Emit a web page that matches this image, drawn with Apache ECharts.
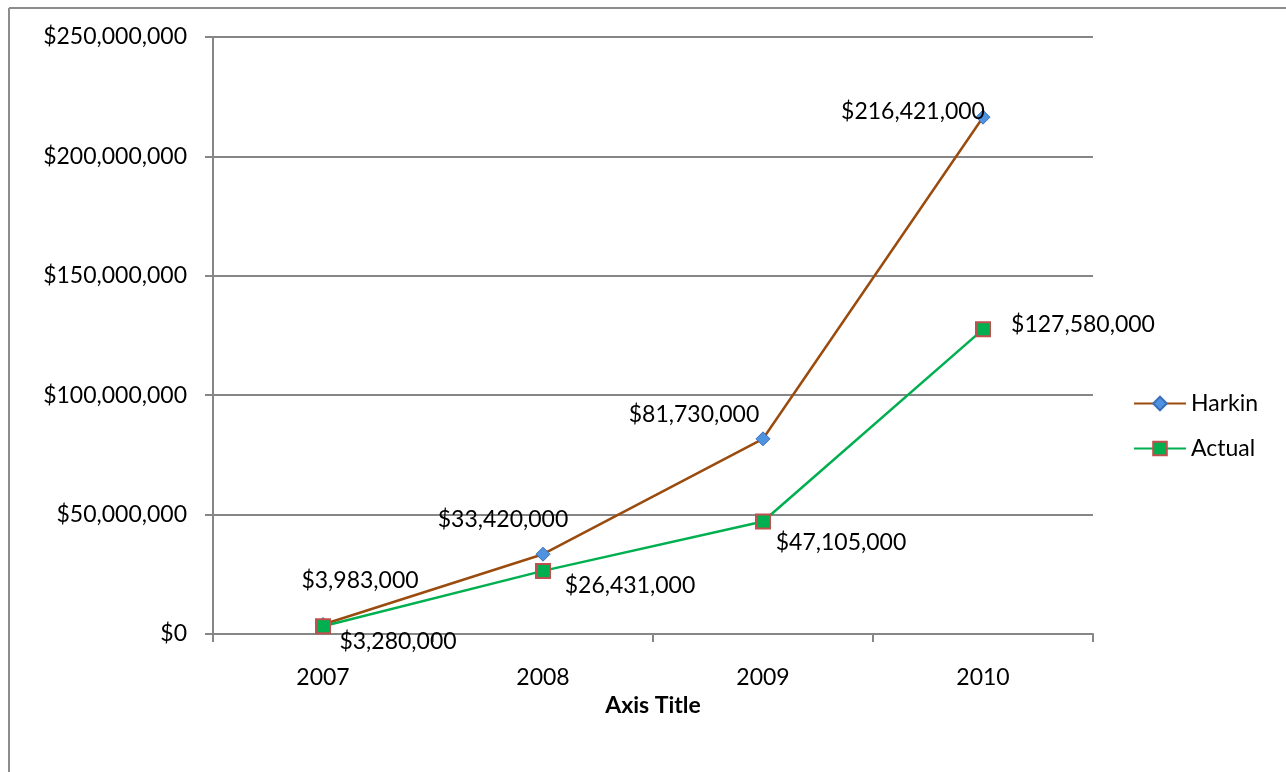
<!DOCTYPE html>
<html>
<head>
<meta charset="utf-8">
<script src="https://cdn.jsdelivr.net/npm/echarts@6/dist/echarts.min.js"></script>
<style>
  html, body { margin: 0; padding: 0; background: #fff; }
  #chart { width: 1286px; height: 772px; }
</style>
</head>
<body>
<div id="chart"></div>
<script>
// Yearly totals
const years = ['2007', '2008', '2009', '2010'];
const harkin = [3983000, 33420000, 81730000, 216421000];
const actual = [3280000, 26431000, 47105000, 127580000];
const yTicks = [0, 50000000, 100000000, 150000000, 200000000, 250000000];

// Per-point label offsets (pixels, relative to the marker)
const harkinLabelOffsets = [[37, -44], [-40, -35], [-69, -24], [-70, -6]];
const actualLabelOffsets = [[75, 15], [87, 15], [78, 21], [100, -5]];

const FONT = 'Lato, "Open Sans", sans-serif';
const FS = 23;
const money = v => '$' + Number(v).toLocaleString('en-US');

function points(values, offsets) {
  return values.map((v, i) => ({
    value: v,
    label: { offset: offsets[i] }
  }));
}

const chart = echarts.init(document.getElementById('chart'));
chart.setOption({
  animation: false,
  backgroundColor: '#fff',
  textStyle: { fontFamily: FONT },
  graphic: [
    {
      type: 'line',
      shape: { x1: 9, y1: 8, x2: 1286, y2: 8 },
      style: { stroke: '#8c8c8c', lineWidth: 2 },
      silent: true, z: 100
    },
    {
      type: 'line',
      shape: { x1: 9, y1: 8, x2: 9, y2: 772 },
      style: { stroke: '#8c8c8c', lineWidth: 2 },
      silent: true, z: 100
    }
  ],
  grid: { left: 213, right: 193, top: 37, bottom: 138, containLabel: false },
  legend: {
    orient: 'vertical',
    left: 1133,
    top: 392,
    padding: 0,
    itemWidth: 52,
    itemHeight: 17,
    itemGap: 22,
    textStyle: { fontFamily: FONT, fontSize: FS, color: '#000', padding: [0, 0, 0, 0] },
    data: ['Harkin', 'Actual']
  },
  xAxis: {
    type: 'category',
    data: years,
    boundaryGap: true,
    name: 'Axis Title',
    nameLocation: 'middle',
    nameGap: 58,
    nameTextStyle: { fontFamily: FONT, fontSize: FS, fontWeight: 'bold', color: '#000' },
    axisLine: { lineStyle: { color: '#868686', width: 2 } },
    axisTick: { show: true, length: 8, alignWithLabel: false, lineStyle: { color: '#868686', width: 2 } },
    axisLabel: { fontFamily: FONT, fontSize: FS, color: '#000', margin: 32 }
  },
  yAxis: {
    type: 'value',
    min: yTicks[0],
    max: yTicks[yTicks.length - 1],
    interval: yTicks[1] - yTicks[0],
    axisLine: { show: true, lineStyle: { color: '#868686', width: 2 } },
    axisTick: { show: true, length: 8, lineStyle: { color: '#868686', width: 2 } },
    splitLine: { show: true, lineStyle: { color: '#868686', width: 2 } },
    axisLabel: {
      fontFamily: FONT, fontSize: FS, color: '#000', margin: 26,
      formatter: money
    }
  },
  series: [
    {
      name: 'Harkin',
      type: 'line',
      data: points(harkin, harkinLabelOffsets),
      symbol: 'diamond',
      symbolSize: 14,
      showAllSymbol: true,
      lineStyle: { color: '#9a4b0e', width: 2.5 },
      itemStyle: { color: '#4f93e0', borderColor: '#3a6fb8', borderWidth: 1 },
      label: {
        show: true, position: 'inside',
        fontFamily: FONT, fontSize: FS, color: '#000',
        formatter: p => money(p.value)
      },
      z: 3
    },
    {
      name: 'Actual',
      type: 'line',
      data: points(actual, actualLabelOffsets),
      symbol: 'rect',
      symbolSize: 14,
      showAllSymbol: true,
      lineStyle: { color: '#00b050', width: 2.5 },
      itemStyle: { color: '#00b050', borderColor: '#c0504d', borderWidth: 2 },
      label: {
        show: true, position: 'inside',
        fontFamily: FONT, fontSize: FS, color: '#000',
        formatter: p => money(p.value)
      },
      z: 4
    }
  ]
});
</script>
</body>
</html>
